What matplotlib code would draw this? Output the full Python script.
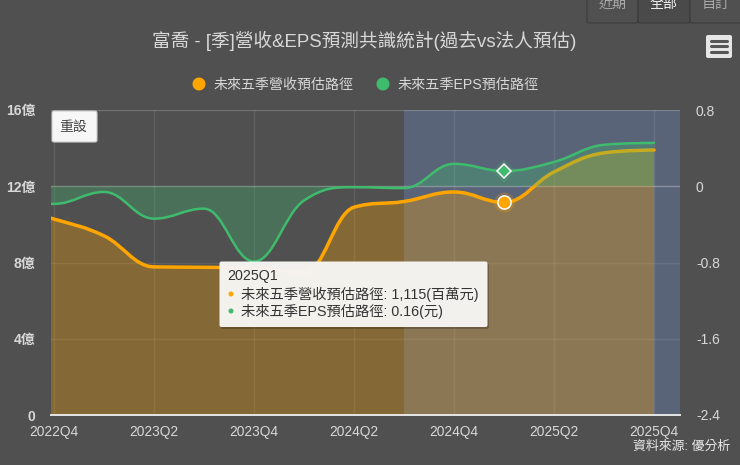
import matplotlib
matplotlib.use("Agg")
import matplotlib.pyplot as plt
from matplotlib.path import Path
from matplotlib.patches import PathPatch, FancyBboxPatch, Circle

plt.rcParams['font.family'] = ['Liberation Sans', 'Noto Sans CJK TC', 'DejaVu Sans']

quarters = ['2022Q3','2022Q4','2023Q1','2023Q2','2023Q3','2023Q4','2024Q1','2024Q2','2024Q3',
            '2024Q4','2025Q1','2025Q2','2025Q3','2025Q4']
revenue = [10.95, 10.28, 9.4, 7.77, 7.75, 7.7, 7.45, 10.9, 11.2, 11.7, 11.15, 12.75, 13.75, 13.9]
eps = [-0.17, -0.185, -0.06, -0.34, -0.235, -0.79, -0.15, -0.01, -0.02, 0.235, 0.16, 0.255, 0.435, 0.455]
rev_ticks = [0, 4, 8, 12, 16]
rev_labels = ['0', '4億', '8億', '12億', '16億']
eps_ticks = [-2.4, -1.6, -0.8, 0, 0.8]
eps_labels = ['-2.4', '-1.6', '-0.8', '0', '0.8']
title = '富喬 - [季]營收&EPS預測共識統計(過去vs法人預估)'
rev_name = '未來五季營收預估路徑'
eps_name = '未來五季EPS預估路徑'
tip_head = '2025Q1'
tip_rev = '未來五季營收預估路徑: 1,115(百萬元)'
tip_eps = '未來五季EPS預估路徑: 0.16(元)'
source = '資料來源: 優分析'
tabs = ['近期', '全部', '自訂']
hover = quarters.index('2025Q1')
band_start = quarters.index('2024Q3')
first_label = quarters.index('2022Q4')

BG = '#505050'
ORANGE = '#FFA500'
GREEN = '#3FBB6E'
TXT = '#d8d8d8'
W, H = 740, 465

def spline_verts(ys):
    """Highcharts-style spline through the data points, as Bezier vertices."""
    n = len(ys)
    s = 1.5; d = s + 1
    lc, rc = [None] * n, [None] * n
    for i in range(1, n - 1):
        x, y = i, ys[i]
        lx, ly, nx, ny = i - 1, ys[i - 1], i + 1, ys[i + 1]
        lcx, lcy = (s * x + lx) / d, (s * y + ly) / d
        rcx, rcy = (s * x + nx) / d, (s * y + ny) / d
        c = (rcy - lcy) * (rcx - x) / (rcx - lcx) + y - rcy
        lcy += c; rcy += c
        if lcy > ly and lcy > y:
            lcy = max(ly, y); rcy = 2 * y - lcy
        elif lcy < ly and lcy < y:
            lcy = min(ly, y); rcy = 2 * y - lcy
        if rcy > ny and rcy > y:
            rcy = max(ny, y); lcy = 2 * y - rcy
        elif rcy < ny and rcy < y:
            rcy = min(ny, y); lcy = 2 * y - rcy
        lc[i] = (lcx, lcy); rc[i] = (rcx, rcy)
    verts = [(0, ys[0])]; codes = [Path.MOVETO]
    for i in range(1, n):
        a = rc[i - 1] or (i - 1, ys[i - 1])
        b = lc[i] or (i, ys[i])
        verts += [a, b, (i, ys[i])]
        codes += [Path.CURVE4] * 3
    return verts, codes

def draw_series(ax, ys, base, color, lw, fill_alpha=0.3):
    v, c = spline_verts(ys)
    area = Path(v + [(len(ys) - 1, base), (0, base), (0, base)],
                c + [Path.LINETO, Path.LINETO, Path.CLOSEPOLY])
    ax.add_patch(PathPatch(area, fc=color, ec='none', alpha=fill_alpha, zorder=3))
    ax.add_patch(PathPatch(Path(v, c), fc='none', ec=color, lw=lw, zorder=4, capstyle='round'))

fig = plt.figure(figsize=(W / 100, H / 100), dpi=100, facecolor=BG)
L, R, T, B = 51, 680, 110, 415
ax = fig.add_axes([L / W, 1 - B / H, (R - L) / W, (B - T) / H], facecolor=BG)
ax2 = ax.twinx()
x0 = first_label - 0.06; x1 = first_label + 12.52
ax.set_xlim(x0, x1); ax2.set_xlim(x0, x1)
ax.set_ylim(0, 16); ax2.set_ylim(-2.4, 0.8)
ax.set_zorder(1); ax2.set_zorder(2); ax2.patch.set_visible(False)

ax.axvspan(band_start, x1, color='#5A6478', lw=0, zorder=0)
ax.set_xticks(range(first_label, len(quarters), 2))
ax.set_xticklabels(quarters[first_label::2], fontsize=9.9, color=TXT)
ax.set_yticks(rev_ticks); ax.set_yticklabels(rev_labels, fontsize=10, color=TXT, fontweight='bold')
ax2.set_yticks(eps_ticks); ax2.set_yticklabels(eps_labels, fontsize=10, color=TXT)
ax.tick_params(axis='x', length=0, pad=7.5)
ax.tick_params(axis='y', length=0, pad=11.5)
ax2.tick_params(axis='y', length=0, pad=11.5)
ax.grid(True, color='white', alpha=0.09, lw=1, zorder=1)
ax.set_axisbelow(True)
for a in (ax, ax2):
    for k, sp in a.spines.items():
        sp.set_visible(False)
ax2.spines['bottom'].set_visible(True)
ax2.spines['bottom'].set_color('#e6e6e6'); ax2.spines['bottom'].set_linewidth(1.4)
ax.axhline(16, color='white', alpha=0.13, lw=1.5)
ax.axhline(12, color='white', alpha=0.22, lw=1, zorder=2)

draw_series(ax, revenue, 0, ORANGE, 2.5)
draw_series(ax2, eps, 0, GREEN, 1.8)

# hovered points
ax.plot([hover], [revenue[hover]], 'o', ms=14.5, color=ORANGE, alpha=0.22, mew=0, zorder=5)
ax.plot([hover], [revenue[hover]], 'o', ms=9.5, mfc=ORANGE, mec='white', mew=1.1, zorder=6)
ax2.plot([hover], [eps[hover]], 'D', ms=12, color=GREEN, alpha=0.22, mew=0, zorder=5)
ax2.plot([hover], [eps[hover]], 'D', ms=7.5, mfc=GREEN, mec='white', mew=1.1, zorder=6)

# overlay in pixel coordinates for page furniture
ov = fig.add_axes([0, 0, 1, 1], facecolor='none', zorder=10)
ov.set_xlim(0, W); ov.set_ylim(H, 0); ov.axis('off')

ov.text(364, 41, title, ha='center', va='center', fontsize=13.4, color=TXT)
ov.add_patch(Circle((199, 84), 6.5, fc=ORANGE, ec='none'))
ov.text(214, 84.5, rev_name, ha='left', va='center', fontsize=10.05, color=TXT)
ov.add_patch(Circle((383, 84), 6.5, fc=GREEN, ec='none'))
ov.text(398, 84.5, eps_name, ha='left', va='center', fontsize=10.15, color=TXT)
ov.text(730, 447, source, ha='right', va='center', fontsize=9.3, color='#e8e8e8')

# range tabs
for i, (xa, xb, lab) in enumerate(zip([587, 638, 690], [638, 690, 745], tabs)):
    ov.add_patch(FancyBboxPatch((xa, -8), xb - xa, 31, boxstyle='round,pad=0,rounding_size=2',
                                fc='#4A4A4A' if i == 1 else BG, ec='#3c3c3c', lw=0.8))
    ov.text((xa + xb) / 2 + (0 if i < 2 else -1.5), 4, lab, ha='center', va='center', fontsize=10.1,
            color='#f2f2f2' if i == 1 else '#aaaaaa', clip_on=True)

# export menu button
ov.add_patch(FancyBboxPatch((706, 35), 26, 23, boxstyle='round,pad=0,rounding_size=2', fc='#E6E6E6', ec='none'))
for yy in (41, 46.5, 52):
    ov.plot([711, 727], [yy, yy], color='#555555', lw=2.2, solid_capstyle='round')

# reset button
ov.add_patch(FancyBboxPatch((52, 111), 45, 31, boxstyle='round,pad=0,rounding_size=2', fc='#F7F7F7', ec='#cccccc', lw=0.8))
ov.text(73.5, 127, '重設', ha='center', va='center', fontsize=10, color='#444444')

# tooltip
ov.add_patch(FancyBboxPatch((221, 263), 268, 66, boxstyle='round,pad=0,rounding_size=2', fc='black', ec='none', alpha=0.22))
ov.add_patch(FancyBboxPatch((219.5, 261.5), 268, 65.5, boxstyle='round,pad=0,rounding_size=2', fc='#F8F7F4', ec='none', alpha=0.97))
ov.text(227, 276, tip_head, ha='left', va='center', fontsize=10.3, color='#333333')
ov.add_patch(Circle((231, 294), 2.5, fc=ORANGE, ec='none'))
ov.text(241, 294, tip_rev, ha='left', va='center', fontsize=10.3, color='#333333')
ov.add_patch(Circle((231, 311), 2.5, fc=GREEN, ec='none'))
ov.text(241, 311, tip_eps, ha='left', va='center', fontsize=10.3, color='#333333')

fig.savefig('out.png', dpi=100, facecolor=BG)
